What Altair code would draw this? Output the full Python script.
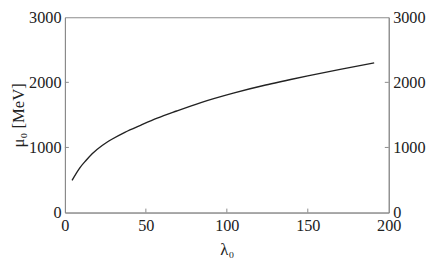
import altair as alt
import pandas as pd

# Data
lam = [4.4, 9, 13, 17, 23, 29, 37, 47, 57, 69, 84, 104, 124, 136, 150, 170, 191]
mu = [495, 680, 800, 907, 1030, 1126, 1233, 1344, 1450, 1560, 1690, 1835, 1960, 2025, 2100, 2200, 2300]
x_ticks = [0, 50, 100, 150, 200]
y_ticks = [0, 1000, 2000, 3000]
x_inner_ticks = [50, 100, 150]
y_inner_ticks = [1000, 2000]

df = pd.DataFrame({"lam": lam, "mu": mu})

W, H = 330, 199
TICK = 4
FONT = "'Liberation Serif', 'Times New Roman', Times, serif"
AX = "#8a8a8a"
INK = "#222222"

xs = alt.Scale(domain=[0, 200], nice=False, zero=False)
ys = alt.Scale(domain=[0, 3000], nice=False)

x_axis = alt.Axis(values=x_ticks, title="λ₀", ticks=False, grid=False,
                  labelPadding=5, titlePadding=8, format="d", labelFlush=False,
                  labelFont=FONT, titleFont=FONT)

line = alt.Chart(df).mark_line(color=INK, strokeWidth=1.4, interpolate="monotone").encode(
    x=alt.X("lam:Q", scale=xs, axis=x_axis),
    y=alt.Y("mu:Q", scale=ys,
            axis=alt.Axis(values=y_ticks, title="μ₀ [MeV]", ticks=False, grid=False,
                          labelPadding=4, titlePadding=1, format="d",
                          labelFont=FONT, titleFont=FONT)),
)

right = alt.Chart(df).mark_line(strokeOpacity=0).encode(
    x=alt.X("lam:Q", scale=xs, axis=x_axis),
    y=alt.Y("mu:Q", scale=ys,
            axis=alt.Axis(orient="right", values=y_ticks, title=None, ticks=False,
                          grid=False, labelPadding=4, format="d", labelFont=FONT)),
)

ytl = alt.Chart(pd.DataFrame({"v": y_inner_ticks})).mark_rule(color=AX).encode(
    y=alt.Y("v:Q", scale=ys, axis=None), x=alt.value(0), x2=alt.value(TICK))
ytr = alt.Chart(pd.DataFrame({"v": y_inner_ticks})).mark_rule(color=AX).encode(
    y=alt.Y("v:Q", scale=ys, axis=None), x=alt.value(W - TICK), x2=alt.value(W))
xt = alt.Chart(pd.DataFrame({"v": x_inner_ticks})).mark_rule(color=AX).encode(
    x=alt.X("v:Q", scale=xs, axis=x_axis), y=alt.value(H - TICK), y2=alt.value(H))

chart = alt.layer(line, right, ytl, ytr, xt).resolve_scale(y="independent").properties(
    width=W, height=H,
    autosize=alt.AutoSizeParams(type="none"),
    padding={"left": 58, "top": 7, "right": 40, "bottom": 50},
).configure_view(stroke=AX, strokeWidth=1).configure_axis(
    domainColor=AX, domainWidth=1,
    labelFont=FONT, labelFontSize=16.5, labelColor=INK,
    titleFont=FONT, titleFontSize=17, titleFontWeight="normal", titleColor=INK,
)

chart.save("out.html", embed_options={"renderer": "svg", "actions": False})
